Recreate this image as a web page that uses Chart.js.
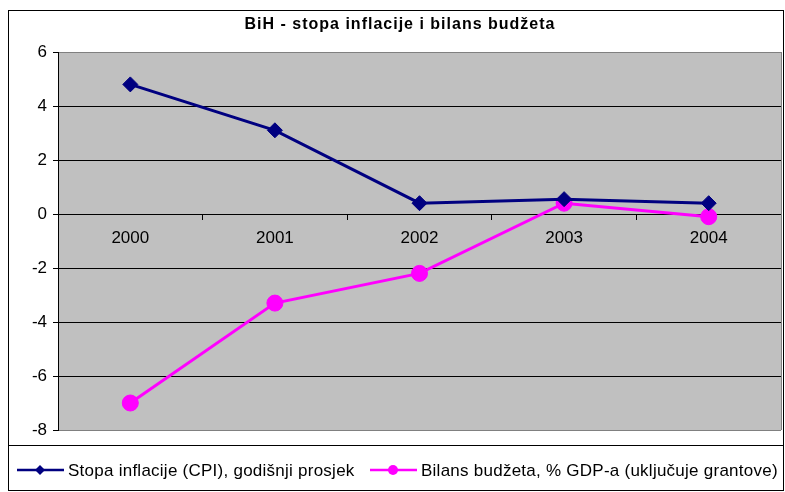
<!DOCTYPE html>
<html>
<head>
<meta charset="utf-8">
<script src="https://cdn.jsdelivr.net/npm/chart.js@4/dist/chart.umd.min.js"></script>
<style>
  html, body { margin: 0; padding: 0; background: #fff; }
</style>
</head>
<body>
<canvas id="bihChart" width="785" height="492"></canvas>
<script>
// podaci
var godine = ["2000", "2001", "2002", "2003", "2004"];
var inflacija = [4.8, 3.1, 0.4, 0.55, 0.4];
var budzet = [-7.0, -3.3, -2.2, 0.4, -0.1];
var naslov = "BiH - stopa inflacije i bilans budžeta";
var legendaTekst = ["Stopa inflacije (CPI), godišnji prosjek", "Bilans budžeta, % GDP-a (uključuje grantove)"];

var font = '"Liberation Sans", Arial, sans-serif';

// pozadina, okvir, naslov i legenda
var okvirPlugin = {
  id: 'okvir',
  beforeDraw: function (chart) {
    var c = chart.ctx, a = chart.chartArea;
    c.save();
    c.fillStyle = '#fff';
    c.fillRect(0, 0, chart.width, chart.height);
    c.fillStyle = '#c0c0c0';
    c.fillRect(a.left, a.top, a.right - a.left, a.bottom - a.top);
    c.restore();
  },
  beforeDatasetsDraw: function (chart) {
    var c = chart.ctx, a = chart.chartArea;
    c.save();
    c.strokeStyle = '#808080';
    c.lineWidth = 1;
    c.beginPath();
    c.moveTo(a.right + 0.5, a.top);
    c.lineTo(a.right + 0.5, a.bottom);
    c.stroke();
    c.restore();
  },
  afterDraw: function (chart) {
    var c = chart.ctx;
    c.save();
    // okvir
    c.strokeStyle = '#000';
    c.lineWidth = 1;
    c.strokeRect(8.5, 10.5, 775, 480);
    c.beginPath();
    c.moveTo(8, 445.5);
    c.lineTo(784, 445.5);
    c.stroke();
    // naslov
    c.fillStyle = '#000';
    c.font = 'bold 16px ' + font;
    c.letterSpacing = '1px';
    c.textAlign = 'center';
    c.textBaseline = 'middle';
    c.fillText(naslov, 400, 25);
    // legenda
    c.font = '17px ' + font;
    c.letterSpacing = '0.25px';
    c.textAlign = 'left';
    var stavke = [
      { x: 17, ds: chart.data.datasets[0] },
      { x: 370, ds: chart.data.datasets[1] }
    ];
    var y = 470;
    stavke.forEach(function (s, i) {
      c.strokeStyle = s.ds.borderColor;
      c.lineWidth = 2.5;
      c.beginPath();
      c.moveTo(s.x, y);
      c.lineTo(s.x + 47, y);
      c.stroke();
      c.fillStyle = s.ds.pointBackgroundColor;
      c.beginPath();
      if (i === 0) {
        c.moveTo(s.x + 23, y - 5); c.lineTo(s.x + 28, y); c.lineTo(s.x + 23, y + 5); c.lineTo(s.x + 18, y);
      } else {
        c.arc(s.x + 23, y, 5, 0, Math.PI * 2);
      }
      c.closePath();
      c.fill();
      c.fillStyle = '#000';
      c.fillText(legendaTekst[i], s.x + 51, y + 1);
    });
    c.restore();
  }
};

var ctx = document.getElementById("bihChart").getContext("2d");

var bihChart = new Chart(ctx, {
  type: 'line',
  data: {
    labels: godine,
    datasets: [{
      label: legendaTekst[0],
      data: inflacija,
      borderColor: '#000080',
      backgroundColor: '#000080',
      pointBackgroundColor: '#000080',
      pointBorderColor: '#000080',
      borderWidth: 3,
      pointStyle: 'rectRot',
      pointRadius: 7.5,
      pointBorderWidth: 1,
      tension: 0
    }, {
      label: legendaTekst[1],
      data: budzet,
      borderColor: '#ff00ff',
      backgroundColor: '#ff00ff',
      pointBackgroundColor: '#ff00ff',
      pointBorderColor: '#ff00ff',
      borderWidth: 3,
      pointStyle: 'circle',
      pointRadius: 8,
      pointBorderWidth: 1,
      tension: 0
    }]
  },
  options: {
    responsive: false,
    animation: false,
    layout: { autoPadding: false, padding: { left: 10, top: 52, right: 4, bottom: 62 } },
    scales: {
      x: {
        position: { y: 0 },
        offset: true,
        afterFit: function (scale) { scale.paddingLeft = 0; scale.paddingRight = 0; },
        grid: {
          offset: true,
          drawOnChartArea: false,
          drawTicks: true,
          tickLength: 5,
          color: '#000'
        },
        border: { display: true, color: '#000', width: 1 },
        ticks: {
          color: '#000',
          padding: 9,
          font: { size: 17, family: font }
        }
      },
      y: {
        min: -8,
        max: 6,
        afterFit: function (scale) { scale.width = 48; },
        grid: {
          color: function (c) {
            return (c.tick && (c.tick.value === 6 || c.tick.value === -8)) ? '#808080' : '#000';
          },
          tickColor: '#000',
          tickLength: 5
        },
        border: { display: true, color: '#000', width: 1 },
        ticks: {
          stepSize: 2,
          color: '#000',
          padding: 6,
          font: { size: 17, family: font }
        }
      }
    },
    plugins: {
      legend: { display: false },
      title: { display: false },
      tooltip: { enabled: false }
    }
  },
  plugins: [okvirPlugin]
});
</script>
</body>
</html>
